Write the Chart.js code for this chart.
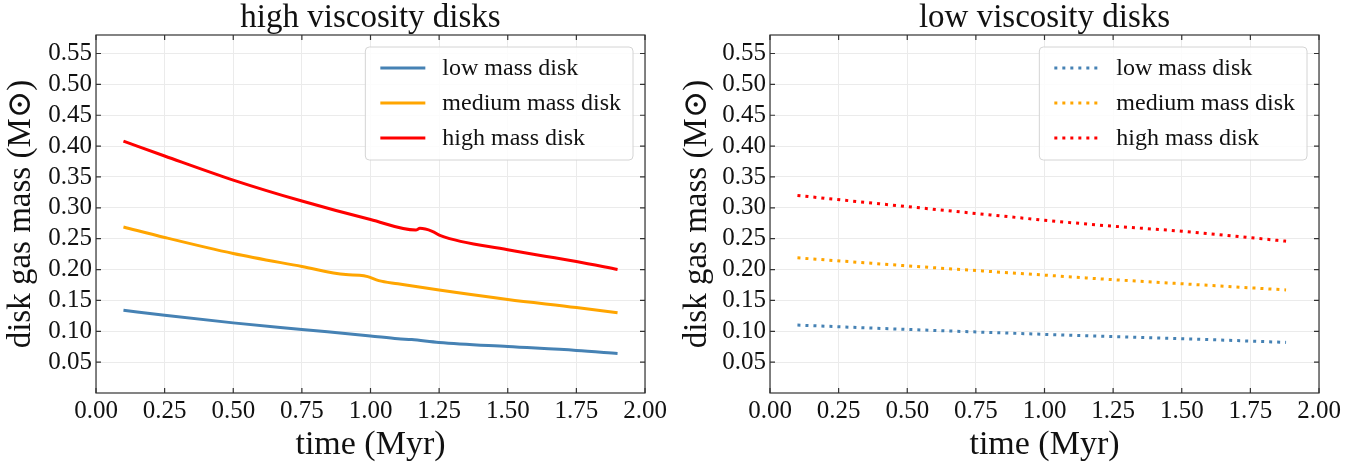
<!DOCTYPE html>
<html>
<head>
<meta charset="utf-8">
<script src="https://cdn.jsdelivr.net/npm/chart.js@4"></script>
<style>
  body { margin: 0; background: #fff; width: 1368px; height: 465px; overflow: hidden; position: relative; }
  canvas { position: absolute; top: 0; }
  #left { left: 0; }
  #right { left: 676px; }
</style>
</head>
<body>
<canvas id="left" width="680" height="465"></canvas>
<canvas id="right" width="692" height="465"></canvas>
<script>
// tick values
const xTicks = [0, 0.25, 0.5, 0.75, 1.0, 1.25, 1.5, 1.75, 2.0];
const yTicks = [0.05, 0.10, 0.15, 0.20, 0.25, 0.30, 0.35, 0.40, 0.45, 0.50, 0.55];

const seriesNames = ['low mass disk', 'medium mass disk', 'high mass disk'];
const seriesColors = ['#4682b4', '#ffa500', '#ff0000'];

// high viscosity disks (time in Myr, mass in Msun)
const hvLowT  = [0.10, 0.25, 0.50, 0.75, 1.00, 1.10, 1.15, 1.25, 1.50, 1.75, 1.90];
const hvLowM  = [0.134, 0.126, 0.1136, 0.103, 0.0925, 0.088, 0.0865, 0.082, 0.0752, 0.069, 0.064];
const hvMedT  = [0.10, 0.25, 0.50, 0.75, 0.91, 0.96, 0.99, 1.03, 1.10, 1.25, 1.50, 1.75, 1.90];
const hvMedM  = [0.269, 0.252, 0.226, 0.205, 0.1918, 0.1908, 0.1885, 0.182, 0.177, 0.1667, 0.1515, 0.1385, 0.130];
const hvHighT = [0.10, 0.25, 0.50, 0.75, 1.00, 1.165, 1.18, 1.225, 1.255, 1.50, 1.75, 1.90];
const hvHighM = [0.408, 0.384, 0.345, 0.311, 0.281, 0.264, 0.2668, 0.262, 0.255, 0.232, 0.213, 0.200];

// low viscosity disks
const lvT     = [0.10, 0.50, 1.00, 1.20, 1.50, 1.88];
const lvLowM  = [0.110, 0.103, 0.095, 0.092, 0.088, 0.082];
const lvMedM  = [0.219, 0.206, 0.191, 0.185, 0.177, 0.167];
const lvHighM = [0.320, 0.302, 0.280, 0.272, 0.262, 0.246];

Chart.defaults.font.family = "'Liberation Serif', 'DejaVu Serif', serif";
Chart.defaults.color = '#111';

const pts = (ts, ms) => ts.map((t, i) => ({ x: t, y: ms[i] }));

// ticks pointing into the axes on all four sides, plus the box frame
const inwardTicks = {
  id: 'inwardTicks',
  afterDatasetsDraw(chart) {
    const { ctx, chartArea: a, scales: { x, y } } = chart;
    ctx.save();
    ctx.strokeStyle = '#333';
    ctx.lineWidth = 1.2;
    ctx.beginPath();
    x.ticks.forEach(t => {
      const px = x.getPixelForValue(t.value);
      ctx.moveTo(px, a.bottom); ctx.lineTo(px, a.bottom - 5);
      ctx.moveTo(px, a.top); ctx.lineTo(px, a.top + 5);
    });
    y.ticks.forEach(t => {
      const py = y.getPixelForValue(t.value);
      ctx.moveTo(a.left, py); ctx.lineTo(a.left + 5, py);
      ctx.moveTo(a.right, py); ctx.lineTo(a.right - 5, py);
    });
    ctx.stroke();
    ctx.strokeRect(a.left, a.top, a.right - a.left, a.bottom - a.top);
    ctx.restore();
  }
};

// matplotlib-like legend box in the upper right corner
const boxLegend = {
  id: 'boxLegend',
  afterDraw(chart) {
    const { ctx, chartArea: a } = chart;
    const sets = chart.data.datasets;
    ctx.save();
    ctx.font = "24px 'Liberation Serif'";
    const textW = Math.max(...sets.map(d => ctx.measureText(d.label).width));
    const w = 77 + textW + 12, h = 113;
    const bx = a.right - 12 - w, by = a.top + 12;
    ctx.beginPath();
    ctx.roundRect(bx, by, w, h, 4);
    ctx.fillStyle = 'rgba(255,255,255,0.85)';
    ctx.fill();
    ctx.strokeStyle = '#d4d4d4';
    ctx.lineWidth = 1;
    ctx.stroke();
    sets.forEach((d, i) => {
      const cy = by + 21 + i * 35;
      ctx.beginPath();
      ctx.setLineDash(d.borderDash || []);
      ctx.strokeStyle = d.borderColor;
      ctx.lineWidth = d.borderWidth;
      ctx.moveTo(bx + 15, cy);
      ctx.lineTo(bx + 60, cy);
      ctx.stroke();
      ctx.setLineDash([]);
      ctx.fillStyle = '#111';
      ctx.textBaseline = 'middle';
      ctx.fillText(d.label, bx + 77, cy + 1);
    });
    ctx.restore();
  }
};

function makeChart(id, title, data, dash, yWidth, rightPad) {
  return new Chart(document.getElementById(id), {
    type: 'line',
    data: {
      datasets: data.map((d, i) => ({
        label: seriesNames[i],
        data: d,
        borderColor: seriesColors[i],
        borderWidth: 3,
        borderDash: dash,
        pointRadius: 0,
        cubicInterpolationMode: 'monotone',
        fill: false
      }))
    },
    options: {
      responsive: false,
      animation: false,
      layout: { padding: { left: 0, right: rightPad, top: 0, bottom: 0 } },
      plugins: {
        legend: { display: false },
        tooltip: { enabled: false },
        title: {
          display: true,
          text: title,
          fullSize: false,
          color: '#111',
          font: { size: 33, weight: 'normal', lineHeight: 1.0 },
          padding: { top: 2, bottom: 0 }
        }
      },
      scales: {
        x: {
          type: 'linear',
          min: 0, max: 2,
          afterBuildTicks: s => { s.ticks = xTicks.map(v => ({ value: v })); },
          afterFit: s => { s.height = 72; },
          ticks: { font: { size: 25 }, padding: 3, maxRotation: 0, callback: v => v.toFixed(2) },
          grid: { color: '#ebebeb', drawTicks: false },
          border: { display: false },
          title: {
            display: true, text: 'time (Myr)',
            font: { size: 34 }, padding: { top: 0, bottom: 0 }
          }
        },
        y: {
          min: 0, max: 0.58,
          afterBuildTicks: s => { s.ticks = yTicks.map(v => ({ value: v })); },
          afterFit: s => { s.width = yWidth; },
          ticks: { font: { size: 25 }, padding: 4, callback: v => v.toFixed(2) },
          grid: { color: '#ebebeb', drawTicks: false },
          border: { display: false },
          title: {
            display: true, text: 'disk gas mass (M\u2299)',
            font: { size: 33 }, padding: { top: 2, bottom: 0 }
          }
        }
      }
    },
    plugins: [inwardTicks, boxLegend]
  });
}

makeChart('left', 'high viscosity disks',
  [pts(hvLowT, hvLowM), pts(hvMedT, hvMedM), pts(hvHighT, hvHighM)],
  [], 96, 35);

makeChart('right', 'low viscosity disks',
  [pts(lvT, lvLowM), pts(lvT, lvMedM), pts(lvT, lvHighM)],
  [3, 5], 94, 49);
</script>
</body>
</html>
